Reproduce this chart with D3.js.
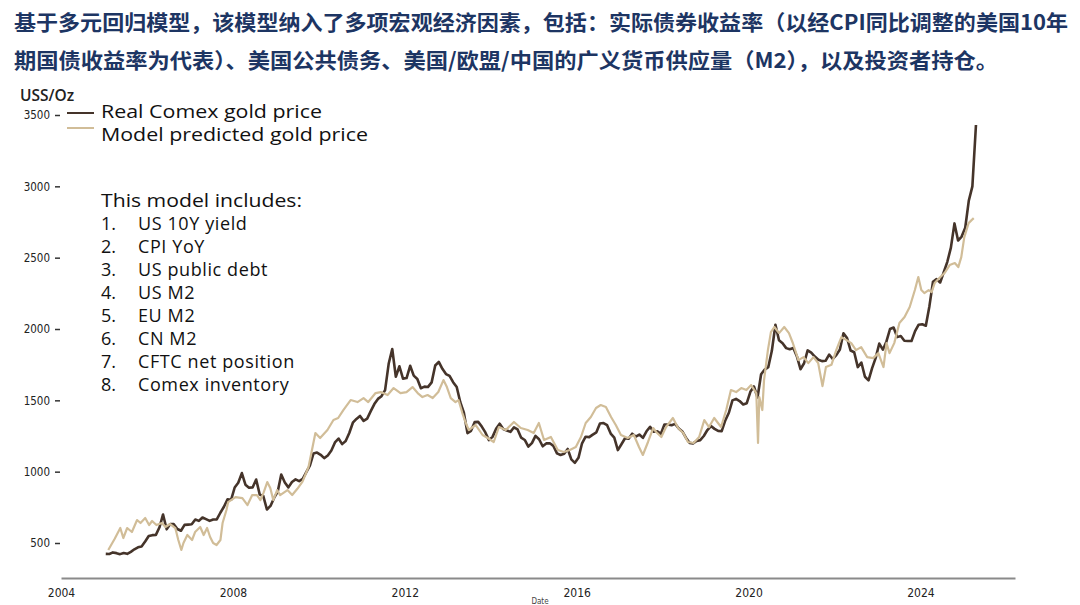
<!DOCTYPE html>
<html><head><meta charset="utf-8">
<script src="https://cdn.jsdelivr.net/npm/d3@7"></script>
<style>
html,body{margin:0;padding:0;background:#fff;}
svg{display:block;}
</style></head>
<body>
<svg id="chart" width="1080" height="605"></svg>
<script>
// ---------------- DATA ----------------
const titleLines = [
  "基于多元回归模型，该模型纳入了多项宏观经济因素，包括：实际债券收益率（以经CPI同比调整的美国10年",
  "期国债收益率为代表）、美国公共债务、美国/欧盟/中国的广义货币供应量（M2），以及投资者持仓。"
];
const yAxisTitle = "USS/Oz";
const seriesNames = ["Real Comex gold price", "Model predicted gold price"];
const noteTitle = "This model includes:";
const noteItems = ["US 10Y yield","CPI YoY","US public debt","US M2","EU M2","CN M2","CFTC net position","Comex inventory"];
const yTicks = [500, 1000, 1500, 2000, 2500, 3000, 3500];
const xTicks = [2004, 2008, 2012, 2016, 2020, 2024];
const xLabel = "Date";

// Real Comex gold price, monthly from Jan 2005 (US$/oz)
const realStartYear = 2005;
const realValues = [
  424,423,434,429,422,430,424,438,456,470,476,510,
  549,555,557,610,700,596,633,632,598,586,627,629,
  631,665,655,679,667,655,665,665,712,754,806,803,
  889,922,990,909,888,889,945,839,829,735,760,816,
  858,980,924,890,928,946,934,949,996,1043,1127,1134,
  1118,1095,1113,1148,1205,1232,1193,1215,1271,1343,1370,1391,
  1356,1372,1424,1474,1510,1529,1572,1756,1860,1665,1739,1652,
  1656,1742,1673,1650,1585,1596,1594,1626,1744,1770,1721,1684,
  1671,1627,1593,1487,1414,1270,1286,1347,1349,1316,1275,1221,
  1244,1300,1336,1299,1288,1279,1311,1296,1238,1222,1176,1200,
  1251,1227,1178,1198,1199,1181,1128,1117,1125,1159,1086,1062,
  1097,1199,1245,1242,1260,1276,1337,1341,1326,1267,1238,1151,
  1192,1234,1231,1266,1246,1260,1237,1283,1314,1280,1283,1265,
  1331,1331,1325,1335,1303,1282,1238,1202,1198,1215,1221,1250,
  1292,1320,1300,1286,1284,1359,1413,1500,1510,1495,1471,1480,
  1560,1597,1520,1683,1715,1732,1847,2030,1921,1900,1866,1858,
  1867,1808,1718,1760,1850,1834,1807,1785,1775,1777,1821,1790,
  1817,1856,1970,1937,1849,1837,1733,1765,1665,1640,1726,1798,
  1898,1855,1913,2000,2010,1943,1951,1918,1916,1916,1985,2030,
  2033,2023,2160,2331,2350,2326,2398,2471,2570,2740,2620,2648,
  2710,2900,3000,3430
];

// Model predicted gold price (decimal year, US$/oz)
const modelYears = [
  2005.10,2005.25,2005.38,2005.45,2005.54,2005.65,2005.77,2005.85,2005.96,2006.05,
  2006.12,2006.22,2006.35,2006.43,2006.54,2006.66,2006.73,2006.80,2006.85,2006.94,
  2007.05,2007.12,2007.24,2007.32,2007.40,2007.47,2007.54,2007.62,2007.71,2007.76,
  2007.85,2007.89,2008.06,2008.22,2008.34,2008.45,2008.56,2008.64,2008.71,2008.80,
  2008.87,2008.94,2009.03,2009.10,2009.27,2009.38,2009.50,2009.62,2009.76,2009.92,
  2010.03,2010.20,2010.34,2010.45,2010.57,2010.74,2010.90,2011.04,2011.15,2011.32,
  2011.44,2011.60,2011.74,2011.90,2012.04,2012.18,2012.30,2012.41,2012.53,2012.65,
  2012.78,2012.90,2012.98,2013.07,2013.18,2013.25,2013.34,2013.42,2013.49,2013.65,
  2013.81,2013.93,2014.07,2014.19,2014.35,2014.54,2014.70,2014.86,2015.00,2015.12,
  2015.24,2015.40,2015.56,2015.70,2015.84,2015.98,2016.10,2016.21,2016.33,2016.45,
  2016.56,2016.68,2016.80,2016.91,2017.03,2017.19,2017.33,2017.45,2017.54,2017.66,
  2017.78,2017.85,2017.97,2018.08,2018.24,2018.36,2018.48,2018.59,2018.72,2018.85,
  2018.97,2019.08,2019.20,2019.36,2019.48,2019.59,2019.71,2019.83,2019.95,2020.06,
  2020.18,2020.22,2020.25,2020.32,2020.36,2020.45,2020.52,2020.60,2020.71,2020.83,
  2020.94,2021.03,2021.16,2021.28,2021.39,2021.51,2021.62,2021.72,2021.80,2021.93,
  2022.04,2022.16,2022.28,2022.39,2022.50,2022.62,2022.76,2022.90,2023.02,2023.14,
  2023.21,2023.28,2023.39,2023.51,2023.63,2023.75,2023.87,2023.95,2024.02,2024.09,
  2024.19,2024.26,2024.33,2024.44,2024.56,2024.68,2024.80,2024.88,2024.95,2025.02,
  2025.12,2025.19,2025.24
];
const modelValues = [
  451,530,605,535,605,577,661,640,675,626,
  654,626,640,612,633,605,521,451,500,556,
  521,577,612,556,605,542,500,486,521,640,
  731,787,822,815,766,836,836,801,850,927,
  885,801,871,836,871,836,880,930,1033,1271,
  1236,1292,1362,1376,1432,1502,1488,1516,1488,1551,
  1558,1537,1586,1551,1558,1593,1551,1523,1537,1516,
  1558,1642,1593,1516,1488,1502,1411,1341,1292,1327,
  1257,1236,1208,1313,1292,1348,1306,1292,1271,1341,
  1222,1243,1152,1138,1152,1173,1243,1341,1383,1446,
  1467,1453,1383,1327,1257,1236,1257,1173,1117,1208,
  1306,1278,1243,1313,1376,1306,1271,1208,1201,1243,
  1362,1313,1376,1313,1432,1572,1558,1586,1572,1607,
  1551,1201,1523,1432,1642,1852,1978,2014,1971,2014,
  1971,1902,1782,1803,1761,1803,1761,1600,1733,1750,
  1852,1943,1922,1901,1852,1873,1803,1796,1831,1733,
  1901,1831,1901,2042,2084,2154,2273,2364,2273,2252,
  2273,2259,2322,2357,2392,2448,2462,2434,2504,2644,
  2742,2763,2777
];

// ---------------- CHART ----------------
const svg = d3.select("#chart");
svg.append("rect").attr("width",1080).attr("height",605).attr("fill","#fff");

const darkColor = "#45342a";
const tanColor = "#d1bd98";
const axisFont = "'DejaVu Sans Condensed','Liberation Sans Narrow','DejaVu Sans',sans-serif";
const labelFont = "'Open Sans','Noto Sans',sans-serif";

// Title
const title = svg.append("g");
const titleX = 14, titleW = [1054, 984], titleY = [30, 68];
titleLines.forEach((t,i)=>{
  title.append("text")
    .attr("x", titleX).attr("y", titleY[i])
    .attr("font-family","'Noto Sans CJK SC',sans-serif")
    .attr("font-weight","bold")
    .attr("font-size", 21)
    .attr("fill","#1d3563")
    .attr("textLength", titleW[i])
    .attr("lengthAdjust","spacingAndGlyphs")
    .text(t);
});

const x = d3.scaleLinear().domain([2004, 2026.2]).range([61, 1015]);
const y = d3.scaleLinear().domain([500, 3500]).range([543, 115]);

// x axis
const xAxis = d3.axisBottom(x).tickValues(xTicks).tickFormat(d3.format("d")).tickSize(0).tickPadding(10);
const gx = svg.append("g").attr("transform","translate(0,578)").call(xAxis);
gx.select(".domain").attr("stroke","#8a8a8a").attr("stroke-width",2);
gx.selectAll("text").attr("font-family",axisFont).attr("font-size",12).attr("fill","#222");

// y axis
const yAxis = d3.axisLeft(y).tickValues(yTicks).tickFormat(d3.format("d")).tickSize(6).tickPadding(5);
const gy = svg.append("g").attr("transform","translate(61,0)").call(yAxis);
gy.select(".domain").remove();
gy.selectAll(".tick line").attr("stroke","#333").attr("stroke-width",1.5).attr("x1",-6).attr("x2",-1);
gy.selectAll("text").attr("font-family",axisFont).attr("font-size",11.5).attr("fill","#222");

// x label (at the very bottom edge)
svg.append("text").attr("x",540).attr("y",604).attr("text-anchor","middle")
  .attr("font-family",axisFont).attr("font-size",8).attr("fill","#444").text(xLabel);

// y title
svg.append("text").attr("x",20).attr("y",101)
  .attr("font-family",labelFont).attr("font-size",15.5).attr("font-weight",600)
  .attr("fill","#222").text(yAxisTitle);

// lines
const realData = realValues.map((v,i)=>({t: realStartYear + (i+0.5)/12, v}));
const modelData = modelYears.map((t,i)=>({t, v: modelValues[i]}));
const line = d3.line().x(d=>x(d.t)).y(d=>y(d.v));

svg.append("path").datum(realData).attr("d",line)
  .attr("fill","none").attr("stroke",darkColor).attr("stroke-width",2.6).attr("stroke-linejoin","round");
svg.append("path").datum(modelData).attr("d",line)
  .attr("fill","none").attr("stroke",tanColor).attr("stroke-width",2.2).attr("stroke-linejoin","round");

// legend
const legend = svg.append("g");
[[darkColor,113,118],[tanColor,128,141]].forEach((c,i)=>{
  legend.append("line").attr("x1",67).attr("x2",94).attr("y1",c[1]).attr("y2",c[1])
    .attr("stroke",c[0]).attr("stroke-width",2);
  legend.append("text").attr("x",101).attr("y",c[2])
    .attr("font-family",labelFont).attr("font-size",18).attr("fill","#111")
    .attr("textLength", i===0?221:267).attr("lengthAdjust","spacingAndGlyphs")
    .text(seriesNames[i]);
});

// note block
const note = svg.append("g").attr("font-family",labelFont).attr("font-size",18).attr("fill","#111");
note.append("text").attr("x",101).attr("y",207).attr("textLength",201).attr("lengthAdjust","spacingAndGlyphs").text(noteTitle);
noteItems.forEach((s,i)=>{
  const yy = 230 + i*23;
  note.append("text").attr("x",101).attr("y",yy).text((i+1)+".");
  note.append("text").attr("x",138).attr("y",yy).attr("letter-spacing",0.6).text(s);
});
</script>
</body></html>
